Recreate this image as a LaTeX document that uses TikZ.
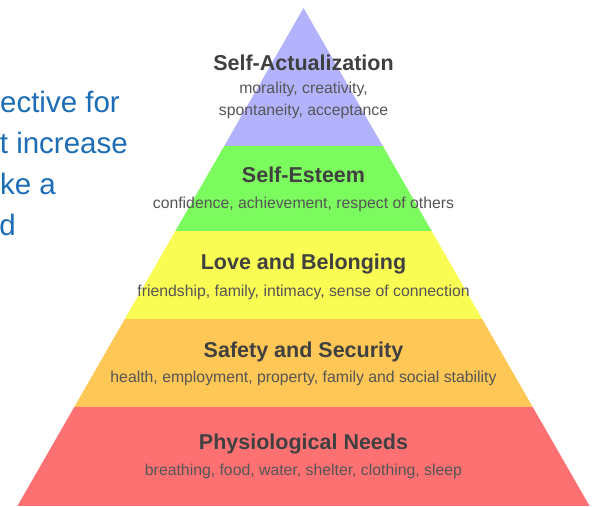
\documentclass[tikz,border=0pt]{standalone}
\usepackage{fontspec}
\setmainfont{Liberation Sans}
\definecolor{lvlA}{HTML}{B3B3FD}
\definecolor{lvlB}{HTML}{7BFB5E}
\definecolor{lvlC}{HTML}{F9FC52}
\definecolor{lvlD}{HTML}{FEC756}
\definecolor{lvlE}{HTML}{FE7173}
\definecolor{titlegray}{HTML}{404040}
\definecolor{subgray}{HTML}{555555}
\definecolor{slideblue}{HTML}{1C6DB5}
\tikzset{
  lvltitle/.style={anchor=base, inner sep=0pt, text=titlegray, font=\fontsize{21.5}{26}\selectfont\bfseries},
  lvlsub/.style={anchor=base, inner sep=0pt, text=subgray, font=\fontsize{15.8}{21.7}\selectfont, align=center},
  slidetext/.style={anchor=base east, inner sep=0pt, text=slideblue, font=\fontsize{29.5}{41}\selectfont}
}
\begin{document}
\begin{tikzpicture}[x=1pt,y=-1pt]
\useasboundingbox (0,0) rectangle (593,506);
\fill[white] (0,0) rectangle (593,506);
% pyramid
\begin{scope}
  \clip (303.5,8) -- (589.6,506) -- (17.4,506) -- cycle;
  \fill[lvlA] (0,0) rectangle (593,146);
  \fill[lvlB] (0,146) rectangle (593,231);
  \fill[lvlC] (0,231) rectangle (593,319);
  \fill[lvlD] (0,319) rectangle (593,407);
  \fill[lvlE] (0,407) rectangle (593,506);
\end{scope}
% labels
\node[lvltitle] (t1) at (303.5,70) {Self-Actualization};
\node[lvlsub, anchor=base] (s1a) at (303.5,93.3) {morality, creativity,};
\node[lvlsub, anchor=base] (s1b) at (303.5,115) {spontaneity, acceptance};
\node[lvltitle] (t2) at (303.5,182) {Self-Esteem};
\node[lvlsub] (s2) at (303.5,208) {confidence, achievement, respect of others};
\node[lvltitle] (t3) at (303.5,269) {Love and Belonging};
\node[lvlsub] (s3) at (303.5,296) {friendship, family, intimacy, sense of connection};
\node[lvltitle] (t4) at (303.5,357) {Safety and Security};
\node[lvlsub] (s4) at (303.5,382) {health, employment, property, family and social stability};
\node[lvltitle] (t5) at (303.5,449) {Physiological Needs};
\node[lvlsub] (s5) at (303.5,475) {breathing, food, water, shelter, clothing, sleep};
% clipped slide text
\node[slidetext] (l1) at (120,112) {ective for};
\node[slidetext] (l2) at (128,153) {t increase};
\node[slidetext] (l3) at (56,194) {ke a};
\node[slidetext] (l4) at (16,235) {d};
\end{tikzpicture}
\end{document}
